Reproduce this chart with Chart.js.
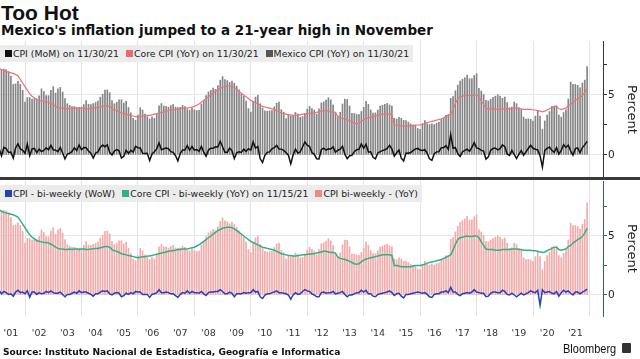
<!DOCTYPE html>
<html>
<head>
<meta charset="utf-8">
<script src="https://cdn.jsdelivr.net/npm/chart.js@4.4.0/dist/chart.umd.min.js"></script>
<style>
  html, body { margin: 0; padding: 0; background: #fff; }
  body { width: 640px; height: 359px; position: relative; overflow: hidden; font-family: "DejaVu Sans", sans-serif; color: #111; }
  #title { position: absolute; left: 1px; top: 2px; font: bold 21px "Liberation Sans", Arial, sans-serif; line-height: 1; }
  #subtitle { position: absolute; left: 1px; top: 24px; font: bold 13.5px "DejaVu Sans", sans-serif; line-height: 1; }
  canvas { position: absolute; left: 0; }
  #cTop { top: 41px; }
  #cBottom { top: 181px; }
  .sep { position: absolute; left: 0; top: 177px; width: 640px; height: 3px; background: #3a3a3a; }
  .legend { position: absolute; left: 0; height: 17px; background: #ececec; display: flex; align-items: center;
            font: 9.3px "DejaVu Sans", sans-serif; color: #222; padding: 0 4px 0 5px; white-space: nowrap; }
  .legend .item { display: flex; align-items: center; margin-right: 7px; }
  .legend .item:last-child { margin-right: 0; }
  .legend .sq { display: inline-block; width: 7px; height: 7px; margin-right: 1px; }
  #legTop { top: 45px; }
  #legBottom { top: 185px; }
  #source { position: absolute; left: 3px; top: 348px; font: bold 9.1px "DejaVu Sans", sans-serif; line-height: 1; }
  #brand { position: absolute; left: 563px; top: 343px; font: 12.5px "Liberation Sans", Arial, sans-serif; line-height: 1;
           transform: scaleX(0.88); transform-origin: left top; }
  #logo { position: absolute; left: 622px; top: 343px; width: 9px; height: 10px; background: #333; border-radius: 1px; }
</style>
</head>
<body>
<div id="title">Too Hot</div>
<div id="subtitle">Mexico's inflation jumped to a 21-year high in November</div>

<canvas id="cTop" width="640" height="137"></canvas>
<div class="sep"></div>
<canvas id="cBottom" width="640" height="164"></canvas>

<div class="legend" id="legTop"></div>
<div class="legend" id="legBottom"></div>

<div id="source">Source: Instituto Nacional de Estadística, Geografía e Informatica</div>
<div id="brand">Bloomberg</div>
<div id="logo"></div>

<script>
// Месячные ряды с января 2001 по ноябрь 2021
const START_YEAR = 2001;

// Верхняя панель
const cpiMoM = [
  0.55, -0.07, 0.63, 0.53, 0.21, 0.25, -0.26, 0.59, 0.93, 0.51, 0.39, 0.14,
  0.92, -0.06, 0.51, 0.55, 0.20, 0.49, 0.29, 0.38, 0.60, 0.44, 0.81, 0.44,
  0.40, 0.28, 0.63, 0.17, -0.32, 0.08, 0.14, 0.30, 0.60, 0.37, 0.83, 0.44,
  0.62, 0.60, 0.34, 0.15, -0.25, 0.16, 0.26, 0.62, 0.83, 0.69, 0.85, 0.21,
  0.00, 0.33, 0.45, 0.35, -0.25, -0.10, 0.39, 0.12, 0.40, 0.25, 0.72, 0.61,
  0.59, 0.15, 0.13, 0.15, -0.45, 0.09, 0.27, 0.51, 1.01, 0.44, 0.52, 0.58,
  0.52, 0.28, 0.22, -0.06, -0.49, 0.12, 0.42, 0.41, 0.78, 0.39, 0.71, 0.41,
  0.46, 0.30, 0.72, 0.23, -0.11, 0.41, 0.56, 0.57, 0.68, 0.67, 1.14, 0.69,
  0.23, 0.22, 0.58, 0.35, -0.29, 0.18, 0.27, 0.22, 0.49, 0.30, 0.53, 0.41,
  1.09, 0.58, 0.71, -0.32, -0.63, -0.03, 0.22, 0.26, 0.52, 0.62, 0.80, 0.50,
  0.49, 0.38, 0.19, -0.01, -0.74, 0.00, 0.48, 0.16, 0.25, 0.67, 1.08, 0.82,
  0.71, 0.20, 0.06, -0.31, -0.33, 0.46, 0.57, 0.40, 0.52, 0.50, 0.68, 0.23,
  0.40, 0.49, 0.73, 0.07, -0.31, -0.06, -0.03, 0.28, 0.44, 0.48, 0.93, 0.57,
  0.89, 0.26, 0.27, -0.19, -0.32, 0.17, 0.28, 0.36, 0.44, 0.55, 0.81, 0.49,
  -0.09, 0.19, 0.41, -0.26, -0.50, 0.17, 0.15, 0.21, 0.37, 0.51, 0.55, 0.41,
  0.38, 0.44, 0.15, -0.32, -0.45, 0.11, 0.26, 0.28, 0.61, 0.61, 0.78, 0.46,
  1.70, 0.58, 0.61, 0.12, -0.12, 0.25, 0.38, 0.49, 0.30, 0.63, 1.03, 0.59,
  0.53, 0.38, 0.32, -0.34, -0.16, 0.39, 0.54, 0.58, 0.42, 0.52, 0.85, 0.70,
  0.09, -0.03, 0.39, 0.05, -0.29, 0.06, 0.38, -0.02, 0.26, 0.54, 0.81, 0.56,
  0.48, 0.42, -0.05, -1.01, 0.38, 0.55, 0.66, 0.39, 0.23, 0.61, 0.08, 0.38,
  0.86, 0.63, 0.83, 0.33, -0.01, 0.53, 0.59, 0.19, 0.62, 0.84, 1.14
];

const coreYoY = [
  7.20, 7.10, 7.00, 6.95, 6.90, 6.85, 6.80, 6.70, 6.60, 6.30, 6.00, 5.70,
  5.40, 5.10, 4.90, 4.75, 4.60, 4.55, 4.50, 4.45, 4.45, 4.40, 4.30, 4.20,
  4.05, 3.95, 3.90, 3.90, 3.85, 3.85, 3.90, 3.85, 3.90, 3.90, 3.85, 3.90,
  3.90, 3.85, 3.85, 3.90, 3.90, 3.95, 3.95, 4.00, 4.05, 4.10, 4.10, 4.05,
  3.85, 3.75, 3.70, 3.60, 3.50, 3.45, 3.40, 3.35, 3.30, 3.25, 3.20, 3.15,
  3.20, 3.25, 3.25, 3.30, 3.30, 3.35, 3.40, 3.45, 3.50, 3.55, 3.60, 3.65,
  3.70, 3.75, 3.75, 3.80, 3.85, 3.85, 3.90, 3.90, 3.90, 3.95, 4.00, 4.05,
  4.15, 4.25, 4.40, 4.55, 4.70, 4.85, 5.00, 5.15, 5.30, 5.45, 5.55, 5.65,
  5.70, 5.75, 5.75, 5.70, 5.60, 5.45, 5.30, 5.15, 5.00, 4.85, 4.70, 4.55,
  4.45, 4.35, 4.25, 4.15, 4.05, 4.00, 3.95, 3.90, 3.85, 3.80, 3.70, 3.60,
  3.50, 3.45, 3.40, 3.35, 3.35, 3.30, 3.30, 3.35, 3.35, 3.40, 3.40, 3.45,
  3.45, 3.50, 3.50, 3.55, 3.60, 3.65, 3.70, 3.70, 3.65, 3.60, 3.60, 3.55,
  3.20, 3.10, 3.05, 3.00, 2.95, 2.85, 2.75, 2.65, 2.60, 2.65, 2.80, 2.95,
  3.05, 3.10, 3.15, 3.20, 3.25, 3.30, 3.35, 3.40, 3.40, 3.40, 3.40, 3.35,
  2.50, 2.50, 2.45, 2.40, 2.40, 2.40, 2.40, 2.40, 2.45, 2.50, 2.50, 2.50,
  2.55, 2.60, 2.70, 2.75, 2.80, 2.85, 2.90, 2.95, 3.00, 3.10, 3.20, 3.30,
  3.40, 3.80, 4.30, 4.70, 4.85, 4.90, 4.95, 5.00, 4.95, 4.95, 5.00, 5.00,
  4.85, 4.50, 4.20, 3.90, 3.85, 3.85, 3.85, 3.80, 3.80, 3.80, 3.85, 3.85,
  3.85, 3.85, 3.90, 3.90, 3.90, 3.85, 3.85, 3.80, 3.80, 3.80, 3.80, 3.75,
  3.75, 3.70, 3.65, 3.60, 3.65, 3.75, 3.85, 3.95, 4.05, 4.05, 3.85, 3.80,
  3.85, 3.90, 4.10, 4.20, 4.40, 4.55, 4.70, 4.80, 4.95, 5.20, 5.60
];

const cpiYoY = [
  8.11, 7.09, 7.17, 7.11, 6.95, 6.57, 5.88, 5.93, 6.14, 5.89, 5.39, 4.40,
  4.79, 4.79, 4.66, 4.70, 4.68, 4.94, 5.51, 5.29, 4.95, 4.94, 5.39, 5.70,
  5.16, 5.52, 5.64, 5.25, 4.70, 4.27, 4.13, 4.04, 4.04, 3.96, 3.98, 3.98,
  4.20, 4.53, 4.23, 4.21, 4.29, 4.37, 4.49, 4.82, 5.06, 5.40, 5.43, 5.19,
  4.54, 4.27, 4.39, 4.60, 4.60, 4.33, 4.47, 3.95, 3.51, 3.05, 2.91, 3.33,
  3.94, 3.75, 3.41, 3.20, 3.00, 3.18, 3.06, 3.47, 4.09, 4.29, 4.09, 4.05,
  3.98, 4.11, 4.21, 3.99, 3.95, 3.98, 4.14, 4.03, 3.79, 3.74, 3.93, 3.76,
  3.70, 3.72, 4.25, 4.55, 4.95, 5.26, 5.39, 5.57, 5.47, 5.78, 6.23, 6.53,
  6.28, 6.20, 6.04, 6.17, 5.98, 5.74, 5.44, 5.08, 4.89, 4.50, 3.86, 3.57,
  4.46, 4.83, 4.97, 4.27, 3.92, 3.69, 3.64, 3.68, 3.70, 4.02, 4.32, 4.40,
  3.78, 3.57, 3.04, 3.36, 3.25, 3.28, 3.55, 3.42, 3.14, 3.20, 3.48, 3.82,
  4.05, 3.87, 3.73, 3.41, 3.85, 4.34, 4.42, 4.57, 4.77, 4.60, 4.18, 3.57,
  3.25, 3.55, 4.25, 4.65, 4.63, 4.09, 3.47, 3.46, 3.39, 3.36, 3.62, 3.97,
  4.48, 4.23, 3.76, 3.50, 3.51, 3.75, 4.07, 4.15, 4.22, 4.30, 4.17, 4.08,
  3.07, 3.00, 3.14, 3.06, 2.88, 2.87, 2.74, 2.59, 2.52, 2.48, 2.21, 2.13,
  2.61, 2.87, 2.60, 2.54, 2.60, 2.54, 2.65, 2.73, 2.97, 3.06, 3.31, 3.36,
  4.72, 4.86, 5.35, 5.82, 6.16, 6.31, 6.44, 6.66, 6.35, 6.37, 6.63, 6.77,
  5.55, 5.34, 5.04, 4.55, 4.51, 4.65, 4.81, 4.90, 5.02, 4.90, 4.72, 4.83,
  4.37, 3.94, 4.00, 4.41, 4.28, 3.95, 3.78, 3.16, 3.00, 3.02, 2.97, 2.83,
  3.24, 3.70, 3.25, 2.15, 2.84, 3.33, 3.62, 4.05, 4.01, 4.09, 3.33, 3.15,
  3.54, 3.76, 4.67, 6.08, 5.89, 5.88, 5.81, 5.59, 6.00, 6.24, 7.37
];

// Нижняя панель (двухнедельные данные)
const biweeklyWoW = [
  0.40, 0.10, 0.30, 0.20, 0.05, 0.10, -0.10, 0.25, 0.40, 0.20, 0.25, 0.10,
  0.35, -0.20, 0.25, 0.25, 0.05, 0.20, 0.10, 0.15, 0.30, 0.20, 0.35, 0.20,
  0.15, 0.15, 0.25, 0.05, -0.15, 0.05, 0.05, 0.15, 0.25, 0.15, 0.35, 0.20,
  0.25, 0.25, 0.15, 0.05, -0.10, 0.10, 0.10, 0.25, 0.35, 0.30, 0.35, 0.10,
  0.00, 0.15, 0.20, 0.15, -0.15, -0.05, 0.15, 0.05, 0.20, 0.10, 0.30, 0.25,
  0.25, 0.05, 0.05, 0.05, -0.20, 0.05, 0.10, 0.20, 0.45, 0.20, 0.20, 0.25,
  0.20, 0.10, 0.10, -0.05, -0.20, 0.05, 0.20, 0.15, 0.35, 0.15, 0.30, 0.20,
  0.20, 0.15, 0.30, 0.10, -0.05, 0.20, 0.25, 0.25, 0.30, 0.30, 0.45, 0.30,
  0.10, 0.10, 0.25, 0.15, -0.15, 0.10, 0.10, 0.10, 0.20, 0.15, 0.20, 0.20,
  0.45, 0.25, 0.30, -0.15, -0.30, 0.00, 0.10, 0.10, 0.20, 0.25, 0.35, 0.20,
  0.20, 0.15, 0.10, 0.00, -0.35, 0.00, 0.20, 0.05, 0.10, 0.30, 0.45, 0.35,
  0.30, 0.10, 0.00, -0.15, -0.15, 0.20, 0.25, 0.15, 0.20, 0.20, 0.30, 0.10,
  0.15, 0.20, 0.30, 0.05, -0.15, 0.00, 0.00, 0.10, 0.20, 0.20, 0.40, 0.25,
  0.40, 0.10, 0.10, -0.10, -0.15, 0.05, 0.10, 0.15, 0.20, 0.25, 0.35, 0.20,
  -0.05, 0.10, 0.15, -0.10, -0.25, 0.05, 0.05, 0.10, 0.15, 0.20, 0.25, 0.20,
  0.15, 0.20, 0.05, -0.15, -0.20, 0.05, 0.10, 0.10, 0.25, 0.25, 0.35, 0.20,
  0.65, 0.25, 0.25, 0.05, -0.05, 0.10, 0.15, 0.20, 0.15, 0.25, 0.45, 0.25,
  0.20, 0.15, 0.15, -0.15, -0.10, 0.15, 0.25, 0.25, 0.20, 0.20, 0.40, 0.30,
  0.05, 0.00, 0.15, 0.00, -0.15, 0.00, 0.15, 0.00, 0.10, 0.20, 0.35, 0.25,
  0.20, 0.40, -0.85, 0.45, 0.20, 0.25, 0.30, 0.15, 0.10, 0.30, -0.10, 0.20,
  0.40, 0.25, 0.35, 0.15, 0.00, 0.25, 0.25, 0.10, 0.25, 0.35, 0.50
];

const coreBiweeklyYoY = [
  7.20, 7.10, 7.00, 6.95, 6.90, 6.85, 6.80, 6.70, 6.60, 6.30, 6.00, 5.70,
  5.40, 5.10, 4.90, 4.75, 4.60, 4.55, 4.50, 4.45, 4.45, 4.40, 4.30, 4.20,
  4.05, 3.95, 3.90, 3.90, 3.85, 3.85, 3.90, 3.85, 3.90, 3.90, 3.85, 3.90,
  3.90, 3.85, 3.85, 3.90, 3.90, 3.95, 3.95, 4.00, 4.05, 4.10, 4.10, 4.05,
  3.85, 3.75, 3.70, 3.60, 3.50, 3.45, 3.40, 3.35, 3.30, 3.25, 3.20, 3.15,
  3.20, 3.25, 3.25, 3.30, 3.30, 3.35, 3.40, 3.45, 3.50, 3.55, 3.60, 3.65,
  3.70, 3.75, 3.75, 3.80, 3.85, 3.85, 3.90, 3.90, 3.90, 3.95, 4.00, 4.05,
  4.15, 4.25, 4.40, 4.55, 4.70, 4.85, 5.00, 5.15, 5.30, 5.45, 5.55, 5.65,
  5.70, 5.75, 5.75, 5.70, 5.60, 5.45, 5.30, 5.15, 5.00, 4.85, 4.70, 4.55,
  4.45, 4.35, 4.25, 4.15, 4.05, 4.00, 3.95, 3.90, 3.85, 3.80, 3.70, 3.60,
  3.50, 3.45, 3.40, 3.35, 3.35, 3.30, 3.30, 3.35, 3.35, 3.40, 3.40, 3.45,
  3.45, 3.50, 3.50, 3.55, 3.60, 3.65, 3.70, 3.70, 3.65, 3.60, 3.60, 3.55,
  3.20, 3.10, 3.05, 3.00, 2.95, 2.85, 2.75, 2.65, 2.60, 2.65, 2.80, 2.95,
  3.05, 3.10, 3.15, 3.20, 3.25, 3.30, 3.35, 3.40, 3.40, 3.40, 3.40, 3.35,
  2.50, 2.50, 2.45, 2.40, 2.40, 2.40, 2.40, 2.40, 2.45, 2.50, 2.50, 2.50,
  2.55, 2.60, 2.70, 2.75, 2.80, 2.85, 2.90, 2.95, 3.00, 3.10, 3.20, 3.30,
  3.40, 3.80, 4.30, 4.70, 4.85, 4.90, 4.95, 5.00, 4.95, 4.95, 5.00, 5.00,
  4.85, 4.50, 4.20, 3.90, 3.85, 3.85, 3.85, 3.80, 3.80, 3.80, 3.85, 3.85,
  3.85, 3.85, 3.90, 3.90, 3.90, 3.85, 3.85, 3.80, 3.80, 3.80, 3.80, 3.75,
  3.75, 3.70, 3.65, 3.60, 3.65, 3.75, 3.85, 3.95, 4.05, 4.05, 3.85, 3.80,
  3.85, 3.90, 4.10, 4.20, 4.40, 4.55, 4.70, 4.80, 4.95, 5.25, 5.65
];

const biweeklyYoY = [
  8.11, 7.09, 7.17, 7.11, 6.95, 6.57, 5.88, 5.93, 6.14, 5.89, 5.39, 4.40,
  4.79, 4.79, 4.66, 4.70, 4.68, 4.94, 5.51, 5.29, 4.95, 4.94, 5.39, 5.70,
  5.16, 5.52, 5.64, 5.25, 4.70, 4.27, 4.13, 4.04, 4.04, 3.96, 3.98, 3.98,
  4.20, 4.53, 4.23, 4.21, 4.29, 4.37, 4.49, 4.82, 5.06, 5.40, 5.43, 5.19,
  4.54, 4.27, 4.39, 4.60, 4.60, 4.33, 4.47, 3.95, 3.51, 3.05, 2.91, 3.33,
  3.94, 3.75, 3.41, 3.20, 3.00, 3.18, 3.06, 3.47, 4.09, 4.29, 4.09, 4.05,
  3.98, 4.11, 4.21, 3.99, 3.95, 3.98, 4.14, 4.03, 3.79, 3.74, 3.93, 3.76,
  3.70, 3.72, 4.25, 4.55, 4.95, 5.26, 5.39, 5.57, 5.47, 5.78, 6.23, 6.53,
  6.28, 6.20, 6.04, 6.17, 5.98, 5.74, 5.44, 5.08, 4.89, 4.50, 3.86, 3.57,
  4.46, 4.83, 4.97, 4.27, 3.92, 3.69, 3.64, 3.68, 3.70, 4.02, 4.32, 4.40,
  3.78, 3.57, 3.04, 3.36, 3.25, 3.28, 3.55, 3.42, 3.14, 3.20, 3.48, 3.82,
  4.05, 3.87, 3.73, 3.41, 3.85, 4.34, 4.42, 4.57, 4.77, 4.60, 4.18, 3.57,
  3.25, 3.55, 4.25, 4.65, 4.63, 4.09, 3.47, 3.46, 3.39, 3.36, 3.62, 3.97,
  4.48, 4.23, 3.76, 3.50, 3.51, 3.75, 4.07, 4.15, 4.22, 4.30, 4.17, 4.08,
  3.07, 3.00, 3.14, 3.06, 2.88, 2.87, 2.74, 2.59, 2.52, 2.48, 2.21, 2.13,
  2.61, 2.87, 2.60, 2.54, 2.60, 2.54, 2.65, 2.73, 2.97, 3.06, 3.31, 3.36,
  4.72, 4.86, 5.35, 5.82, 6.16, 6.31, 6.44, 6.66, 6.35, 6.37, 6.63, 6.77,
  5.55, 5.34, 5.04, 4.55, 4.51, 4.65, 4.81, 4.90, 5.02, 4.90, 4.72, 4.83,
  4.37, 3.94, 4.00, 4.41, 4.28, 3.95, 3.78, 3.16, 3.00, 3.02, 2.97, 2.83,
  3.24, 3.70, 3.25, 2.15, 2.84, 3.33, 3.62, 4.05, 4.01, 4.09, 3.33, 3.15,
  3.54, 3.76, 4.67, 6.08, 5.89, 5.88, 5.81, 5.59, 6.00, 6.40, 7.80
];

const topLegend = [
  { label: 'CPI (MoM) on 11/30/21', color: '#111111' },
  { label: 'Core CPI (YoY) on 11/30/21', color: '#ee6a72' },
  { label: 'Mexico CPI (YoY) on 11/30/21', color: '#555555' }
];
const bottomLegend = [
  { label: 'CPI - bi-weekly (WoW)', color: '#2343b8' },
  { label: 'Core CPI - bi-weekly (YoY) on 11/15/21', color: '#2fb386' },
  { label: 'CPI bi-weekly - (YoY)', color: '#f08a8a' }
];

// Координата x каждого месяца (конец месяца в долях года)
const monthX = cpiYoY.map((_, i) => START_YEAR + (i + 1) / 12);
const toPoints = arr => arr.map((v, i) => ({ x: monthX[i], y: v }));

const X_MIN = 2001.114;
const X_MAX = 2022.48;

// --- легенды ---
function renderLegend(id, items) {
  document.getElementById(id).innerHTML = items.map(it => `
    <span class="item"><span class="sq" style="background:${it.color}"></span>${it.label}</span>
  `).join('');
}
renderLegend('legTop', topLegend);
renderLegend('legBottom', bottomLegend);

// --- оси ---
function makeXScale(showLabels) {
  return {
    type: 'linear',
    min: X_MIN,
    max: X_MAX,
    offset: false,
    afterBuildTicks(scale) {
      const ticks = [];
      for (let y = START_YEAR; y <= 2022; y++) {
        if (y >= X_MIN && y <= X_MAX) ticks.push({ value: y });
        if (y + 0.5 >= X_MIN && y + 0.5 <= X_MAX) ticks.push({ value: y + 0.5 });
      }
      scale.ticks = ticks;
    },
    afterFit(scale) {
      scale.height = showLabels ? 29 : 0;
      scale.paddingLeft = 0;
      scale.paddingRight = 0;
    },
    grid: {
      offset: false,
      drawTicks: false,
      color: ctx => (ctx.tick && ctx.tick.value % 2 === 0) ? '#e2e2e2' : 'rgba(0,0,0,0)'
    },
    border: { display: false },
    ticks: {
      display: showLabels,
      autoSkip: false,
      maxRotation: 0,
      padding: 12,
      color: '#333',
      font: { family: 'DejaVu Sans', size: 9.5 },
      callback: v => (v % 1 === 0.5) ? "'" + String(Math.floor(v) % 100).padStart(2, '0') : ''
    }
  };
}

function makeYScale(min, max, axisColor) {
  return {
    position: 'right',
    min: min,
    max: max,
    afterBuildTicks(scale) {
      scale.ticks = [0, 2.5, 5, 7.5].map(v => ({ value: v }));
    },
    afterFit(scale) {
      scale.width = 37;
      scale.paddingTop = 0;
      scale.paddingBottom = 0;
    },
    grid: {
      tickLength: 4,
      color: ctx => (ctx.tick && (ctx.tick.value === 0 || ctx.tick.value === 5)) ? '#e6e6e6' : 'rgba(0,0,0,0)',
      tickColor: axisColor
    },
    border: { display: true, color: axisColor, width: 1 },
    ticks: {
      padding: 1,
      color: '#222',
      font: { family: 'DejaVu Sans', size: 10.5 },
      callback: v => (v === 0 || v === 5) ? String(v) : ''
    },
    title: {
      display: true,
      text: 'Percent',
      color: '#222',
      font: { family: 'DejaVu Sans', size: 13 },
      padding: { top: 1, bottom: 0 }
    }
  };
}

const baseOptions = {
  responsive: false,
  animation: false,
  devicePixelRatio: 1,
  layout: { padding: 0 },
  plugins: { legend: { display: false }, tooltip: { enabled: false } }
};

// --- верхняя панель ---
new Chart(document.getElementById('cTop'), {
  type: 'bar',
  data: {
    datasets: [
      { type: 'line', label: 'CPI (MoM)', data: toPoints(cpiMoM), borderColor: '#111', borderWidth: 1.5,
        pointRadius: 0, tension: 0, order: 0 },
      { type: 'line', label: 'Core CPI (YoY)', data: toPoints(coreYoY), borderColor: '#ea737b', borderWidth: 1.2,
        pointRadius: 0, tension: 0, order: 1 },
      { type: 'bar', label: 'Mexico CPI (YoY)', data: toPoints(cpiYoY), backgroundColor: '#858585',
        barThickness: 1, order: 2 }
    ]
  },
  options: Object.assign({}, baseOptions, {
    scales: { x: makeXScale(false), y: makeYScale(-1.917, 9.5, '#333') }
  })
});

// --- нижняя панель ---
new Chart(document.getElementById('cBottom'), {
  type: 'bar',
  data: {
    datasets: [
      { type: 'line', label: 'CPI - bi-weekly (WoW)', data: toPoints(biweeklyWoW), borderColor: '#2343b8', borderWidth: 1.5,
        pointRadius: 0, tension: 0, order: 0 },
      { type: 'line', label: 'Core CPI - bi-weekly (YoY)', data: toPoints(coreBiweeklyYoY), borderColor: '#2fb386', borderWidth: 1.5,
        pointRadius: 0, tension: 0, order: 1 },
      { type: 'bar', label: 'CPI bi-weekly - (YoY)', data: toPoints(biweeklyYoY), backgroundColor: '#f2aaaa',
        barThickness: 1, order: 2 }
    ]
  },
  options: Object.assign({}, baseOptions, {
    scales: { x: makeXScale(true), y: makeYScale(-1.78, 9.66, '#3556b8') }
  })
});
</script>
</body>
</html>
